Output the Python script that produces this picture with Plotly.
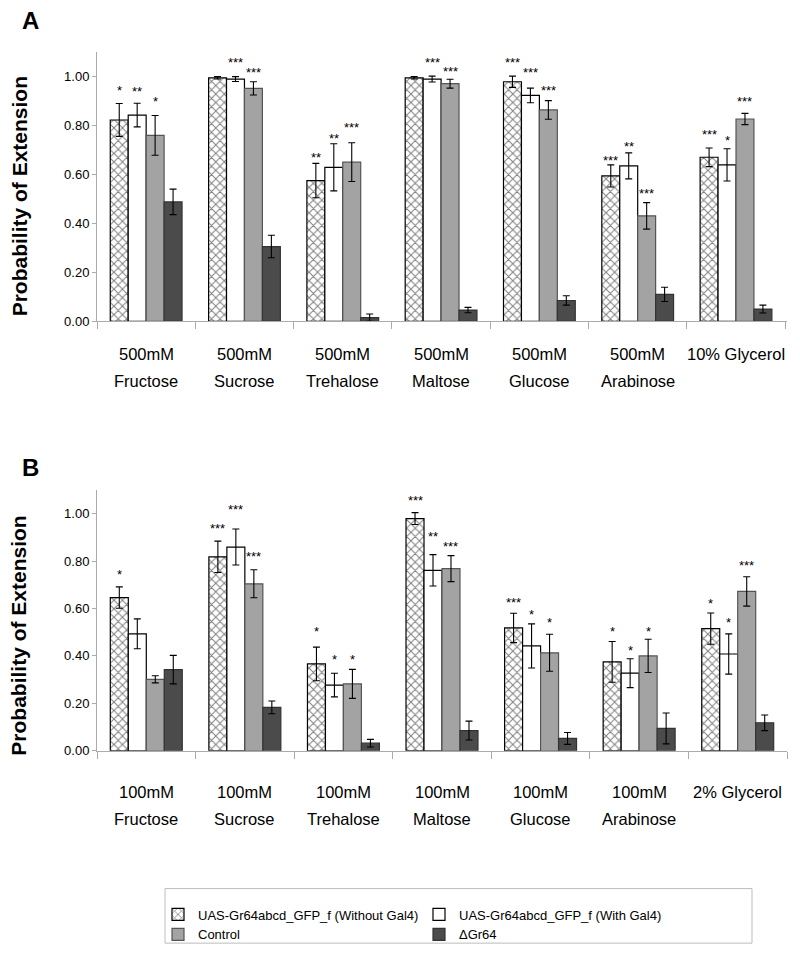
import plotly.graph_objects as go
from plotly.subplots import make_subplots

# ---------------- data ----------------
cat_keys = ["Fructose", "Sucrose", "Trehalose", "Maltose", "Glucose", "Arabinose", "Glycerol"]
A_line1 = ["500mM", "500mM", "500mM", "500mM", "500mM", "500mM", "10% Glycerol"]
A_line2 = ["Fructose", "Sucrose", "Trehalose", "Maltose", "Glucose", "Arabinose", ""]
B_line1 = ["100mM", "100mM", "100mM", "100mM", "100mM", "100mM", "2% Glycerol"]
B_line2 = ["Fructose", "Sucrose", "Trehalose", "Maltose", "Glucose", "Arabinose", ""]

series_names = ["UAS-Gr64abcd_GFP_f (Without Gal4)", "UAS-Gr64abcd_GFP_f (With Gal4)",
                "Control", "ΔGr64"]

A_without = [0.821, 0.993, 0.574, 0.993, 0.977, 0.593, 0.669]
A_without_err = [0.067, 0.005, 0.070, 0.005, 0.023, 0.045, 0.038]
A_with = [0.841, 0.988, 0.628, 0.988, 0.921, 0.634, 0.638]
A_with_err = [0.048, 0.010, 0.096, 0.012, 0.030, 0.053, 0.066]
A_control = [0.758, 0.950, 0.649, 0.969, 0.862, 0.430, 0.825]
A_control_err = [0.081, 0.027, 0.079, 0.018, 0.038, 0.054, 0.023]
A_dgr64 = [0.487, 0.305, 0.015, 0.046, 0.085, 0.110, 0.050]
A_dgr64_err = [0.052, 0.046, 0.015, 0.011, 0.019, 0.029, 0.016]

B_without = [0.646, 0.818, 0.366, 0.979, 0.518, 0.375, 0.515]
B_without_err = [0.045, 0.066, 0.071, 0.025, 0.062, 0.086, 0.066]
B_with = [0.493, 0.859, 0.277, 0.761, 0.442, 0.327, 0.408]
B_with_err = [0.063, 0.076, 0.050, 0.066, 0.093, 0.061, 0.085]
B_control = [0.301, 0.704, 0.282, 0.768, 0.413, 0.400, 0.672]
B_control_err = [0.015, 0.059, 0.061, 0.055, 0.078, 0.070, 0.062]
B_dgr64 = [0.342, 0.183, 0.032, 0.085, 0.052, 0.094, 0.118]
B_dgr64_err = [0.060, 0.027, 0.016, 0.040, 0.025, 0.065, 0.033]

# significance stars and the height (in axis units) where each is printed
A_stars_without = ["*", "***", "**", "***", "***", "***", "***"]
A_stars_with = ["**", "***", "**", "***", "***", "**", "*"]
A_stars_control = ["*", "***", "***", "***", "***", "***", "***"]
A_stary_without = [0.954, 1.107, 0.682, 1.107, 1.068, 0.670, 0.776]
A_stary_with = [0.950, 1.068, 0.757, 1.068, 1.027, 0.725, 0.750]
A_stary_control = [0.910, 1.027, 0.802, 1.031, 0.954, 0.533, 0.910]

B_stars_without = ["*", "***", "*", "***", "***", "*", "*"]
B_stars_with = ["", "***", "*", "**", "*", "*", "*"]
B_stars_control = ["", "***", "*", "***", "*", "*", "***"]
B_stary_without = [0.754, 0.949, 0.515, 1.070, 0.638, 0.514, 0.632]
B_stary_with = [0, 1.032, 0.399, 0.915, 0.586, 0.434, 0.554]
B_stary_control = [0, 0.831, 0.399, 0.872, 0.554, 0.514, 0.792]

y_ticks = [0.0, 0.2, 0.4, 0.6, 0.8, 1.0]

# ---------------- styling ----------------
W, H = 800, 967
ML, MR = 97, 13
REG = "Liberation Sans, Arial, sans-serif"
AXC = "#ababab"
BARGAP = 0.27

styles = [
    dict(color="white", line=dict(color="black", width=1.2),
         pattern=dict(shape="x", fgcolor="black", bgcolor="white", size=6, solidity=0.3)),
    dict(color="white", line=dict(color="black", width=1.2)),
    dict(color="#a3a3a3", line=dict(color="#555555", width=1.2)),
    dict(color="#4b4b4b", line=dict(color="#333333", width=1.2)),
]

fig = make_subplots(rows=2, cols=1)

panels = [
    (1, [A_without, A_with, A_control, A_dgr64],
     [A_without_err, A_with_err, A_control_err, A_dgr64_err]),
    (2, [B_without, B_with, B_control, B_dgr64],
     [B_without_err, B_with_err, B_control_err, B_dgr64_err]),
]
for row, vals, errs in panels:
    for i in range(4):
        fig.add_trace(go.Bar(
            x=cat_keys, y=vals[i], name=series_names[i],
            marker=styles[i],
            error_y=dict(type="data", array=errs[i], color="black", thickness=1.1, width=3.5),
            showlegend=(row == 1), legendgroup=series_names[i],
        ), row=row, col=1)

# domains (margins 0 top/bottom -> paper y = 1 - px/H)
fig.update_layout(
    xaxis=dict(domain=[0, 1], anchor="y"),
    yaxis=dict(domain=[1 - 324 / H, 1 - 52 / H], anchor="x"),
    xaxis2=dict(domain=[0, 1], anchor="y2"),
    yaxis2=dict(domain=[1 - 757 / H, 1 - 494 / H], anchor="x2"),
)
for ax in ["xaxis", "xaxis2"]:
    fig.layout[ax].update(type="category", showline=True, linecolor=AXC, linewidth=1,
                          ticks="outside", tickson="boundaries", ticklen=7, tickcolor=AXC,
                          showticklabels=False, showgrid=False, zeroline=False)
for ax in ["yaxis", "yaxis2"]:
    fig.layout[ax].update(range=[0, 1.1], tickvals=y_ticks, tickformat=".2f",
                          showline=True, linecolor=AXC, linewidth=1, ticks="outside",
                          ticklen=4, tickcolor=AXC, showgrid=False, zeroline=False,
                          tickfont=dict(family=REG, size=13, color="black"))

annotations = []
plot_w = W - ML - MR
cat_w = plot_w / len(cat_keys)
bar_w = cat_w * (1 - BARGAP) / 4

star_sets = [
    ("x", "y", [A_stars_without, A_stars_with, A_stars_control],
     [A_stary_without, A_stary_with, A_stary_control]),
    ("x2", "y2", [B_stars_without, B_stars_with, B_stars_control],
     [B_stary_without, B_stary_with, B_stary_control]),
]
for xr, yr, stars, stary in star_sets:
    for s in range(3):
        for c, key in enumerate(cat_keys):
            if stars[s][c]:
                annotations.append(dict(
                    x=key, y=stary[s][c], xref=xr, yref=yr, text=stars[s][c],
                    showarrow=False, xshift=(s - 1.5) * bar_w, yshift=-3,
                    yanchor="middle", font=dict(family=REG, size=13, color="black")))

label_sets = [("x", "y", A_line1, A_line2, -33, -60), ("x2", "y2", B_line1, B_line2, -41, -68)]
for xr, yr, l1, l2, s1, s2 in label_sets:
    for c, key in enumerate(cat_keys):
        for txt, sh in ((l1[c], s1), (l2[c], s2)):
            if txt:
                annotations.append(dict(
                    x=key, y=0, xref=xr, yref=yr, text=txt, showarrow=False,
                    yshift=sh, yanchor="middle",
                    font=dict(family=REG, size=16.5, color="black")))

# y-axis titles and panel letters
for ycen, letter, ylet in ((198, "A", 21), (641, "B", 471)):
    annotations.append(dict(
        x=(19 - ML) / plot_w, y=1 - ycen / H, xref="paper", yref="paper",
        text="<b>Probability of Extension</b>", textangle=-90, showarrow=False,
        xanchor="center", yanchor="middle",
        font=dict(family=REG, size=21, color="black")))
    annotations.append(dict(
        x=(30 - ML) / plot_w, y=1 - ylet / H, xref="paper", yref="paper",
        text="<b>%s</b>" % letter, showarrow=False, xanchor="center", yanchor="middle",
        font=dict(family=REG, size=24, color="black")))

fig.update_layout(
    width=W, height=H,
    margin=dict(l=ML, r=MR, t=0, b=0),
    paper_bgcolor="white", plot_bgcolor="white",
    barmode="group", bargap=BARGAP, bargroupgap=0,
    annotations=annotations,
    shapes=[dict(type="rect", xref="paper", yref="paper",
                 x0=(165 - ML) / plot_w, x1=(752 - ML) / plot_w,
                 y0=1 - 951 / H, y1=1 - 896 / H,
                 line=dict(color="#bdbdbd", width=1), fillcolor="rgba(0,0,0,0)")],
    legend=dict(orientation="h", x=(158 - ML) / plot_w, y=1 - 907 / H,
                xanchor="left", yanchor="top", entrywidth=216, entrywidthmode="pixels",
                font=dict(family=REG, size=13, color="black"),
                bgcolor="rgba(0,0,0,0)", borderwidth=0, traceorder="normal",
                tracegroupgap=0),
    font=dict(family=REG, color="black"),
)

fig.write_html("out.html", config={"displayModeBar": False},
               post_script="document.body.style.margin='0';document.body.style.padding='0';")
